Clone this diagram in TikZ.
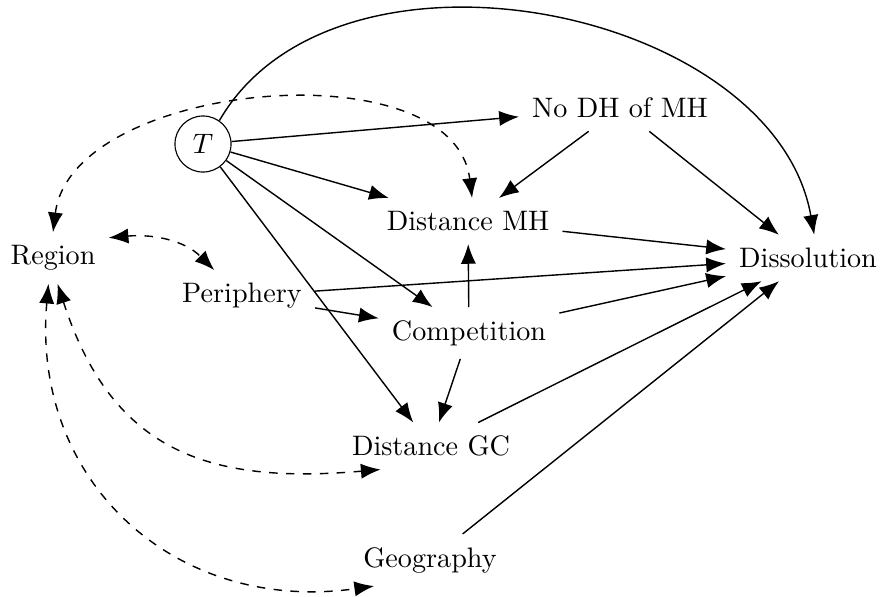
\documentclass[tikz,border=0pt]{standalone}
\usepackage{amsmath,amssymb}
\usepackage{tikz}
\usetikzlibrary{arrows.meta}

\begin{document}
\begin{tikzpicture}[x=0.355pt, y=0.355pt,
    var/.style={inner sep=4.5pt},
    dir/.style={-{Latex[length=7pt, width=5.4pt]}, line width=0.5pt},
    bidir/.style={{Latex[length=7pt, width=5.4pt]}-{Latex[length=7pt, width=5.4pt]}, dashed, line width=0.5pt}]
    \useasboundingbox (0,0) rectangle (881,-596);
    % variables
    \node[draw, circle, minimum size=19.9pt, inner sep=0pt, line width=0.4pt] (t) at (203,-144) {$T$};
    \node[var] (nodh)   at (620,-108) {No DH of MH};
    \node[var] (distmh) at (468,-221) {Distance MH};
    \node[var] (region) at (53,-258)  {Region};
    \node[var] (dissol) at (808,-258) {Dissolution};
    \node[var] (periph) at (242,-296) {Periphery};
    \node[var] (compet) at (469,-333) {Competition};
    \node[var] (distgc) at (431,-446) {Distance GC};
    \node[var] (geogr)  at (430,-560) {Geography};
    % directed edges
    \foreach \a/\b in {t/nodh, t/distmh, t/compet, t/distgc,
      nodh/distmh, nodh/dissol, distmh/dissol, periph/dissol, periph/compet,
      compet/distmh, compet/dissol, compet/distgc, distgc/dissol, geogr/dissol} {
      \draw[dir] (\a) -- (\b);
    }
    \draw[dir] (t.55) to[out=60, in=100, looseness=0.98] (dissol.75);
    % bidirected edges
    \draw[bidir] (region.north) to[out=83, in=97, looseness=0.93] (distmh.80);
    \draw[bidir] (region.20) to[out=5, in=135] (periph.137);
    \draw[bidir] (region.-80) to[out=-72, in=185, looseness=1.2] (distgc.205);
    \draw[bidir] (region.-100) to[out=-95, in=188, looseness=1.15] (geogr.205);
\end{tikzpicture}
\end{document}
